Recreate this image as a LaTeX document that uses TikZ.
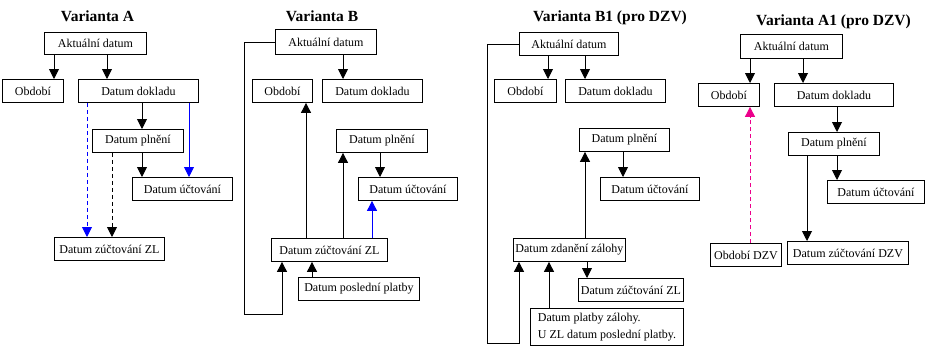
\documentclass[tikz,border=0pt]{standalone}
\usepackage{fontspec}
\setmainfont{Liberation Serif}
\usetikzlibrary{arrows.meta}
\tikzset{
    datbox/.style    = {draw, line width=0.9pt, anchor=north west, minimum width=#1,
                        minimum height=23pt, inner sep=0pt, font=\fontsize{12}{14}\selectfont},
    nadpis/.style    = {anchor=base, font=\fontsize{15.5}{18}\selectfont\bfseries},
    sipka/.style     = {-{Triangle[width=10pt, length=10pt]}, line width=0.9pt},
    carkovana/.style = {sipka, dash pattern=on 4pt off 3pt}
}
\begin{document}
\begin{tikzpicture}[x=1pt, y=-1pt]
        \useasboundingbox (0,0) rectangle (934,356);

        % --- Varianta A ---
        \node[nadpis] (tA) at (97.5,21) {Varianta A};
        \node[datbox=102, minimum height=22pt] (aktA) at (44,32)  {Aktuální datum};
        \node[datbox=61]  (obdA) at (2,79)    {Období};
        \node[datbox=120] (dokA) at (78,79)   {Datum dokladu};
        \node[datbox=91]  (plnA) at (92,129)  {Datum plnění};
        \node[datbox=100] (uctA) at (132,177) {Datum účtování};
        \node[datbox=110] (zlA)  at (54,237)  {Datum zúčtování ZL};

        \draw[sipka] (aktA.south -| 54,0)  -- (obdA.north -| 54,0);
        \draw[sipka] (aktA.south -| 107,0) -- (dokA.north -| 107,0);
        \draw[sipka] (dokA.south -| 142,0) -- (plnA.north -| 142,0);
        \draw[sipka] (plnA.south -| 142,0) -- (uctA.north -| 142,0);
        \draw[sipka, blue] (dokA.south -| 189,0) -- (uctA.north -| 189,0);
        \draw[carkovana, blue] (dokA.south -| 87,0) -- (zlA.north -| 87,0);
        \draw[carkovana] (plnA.south -| 112,0) -- (zlA.north -| 112,0);

        % --- Varianta B ---
        \node[nadpis] (tB) at (322,21) {Varianta B};
        \node[datbox=101, minimum height=25pt] (aktB) at (275,29) {Aktuální datum};
        \node[datbox=60]  (obdB) at (252,79)  {Období};
        \node[datbox=100] (dokB) at (322,79)  {Datum dokladu};
        \node[datbox=91]  (plnB) at (336,129) {Datum plnění};
        \node[datbox=99]  (uctB) at (358,177) {Datum účtování};
        \node[datbox=116] (zlB)  at (271,238) {Datum zúčtování ZL};
        \node[datbox=121] (posB) at (298,277) {Datum poslední platby};

        \draw[sipka] (aktB.south -| 343,0) -- (dokB.north -| 343,0);
        \draw[sipka] (aktB.west) -| (244,314) -| (zlB.south -| 282,0);
        \draw[sipka] (zlB.north -| 306,0) -- (obdB.south -| 306,0);
        \draw[sipka] (zlB.north -| 343,0) -- (plnB.south -| 343,0);
        \draw[sipka] (plnB.south -| 380,0) -- (uctB.north -| 380,0);
        \draw[sipka, blue] (zlB.north -| 372,0) -- (uctB.south -| 372,0);
        \draw[sipka] (posB.north -| 312,0) -- (zlB.south -| 312,0);

        % --- Varianta B1 ---
        \node[nadpis] (tB1) at (610,21) {Varianta B1 (pro DZV)};
        \node[datbox=99]  (aktB1) at (519,32)  {Aktuální datum};
        \node[datbox=62]  (obdB1) at (494,79)  {Období};
        \node[datbox=100] (dokB1) at (565,79)  {Datum dokladu};
        \node[datbox=90]  (plnB1) at (579,128) {Datum plnění};
        \node[datbox=99]  (uctB1) at (600,177) {Datum účtování};
        \node[datbox=112] (zdB1)  at (513,238) {Datum zdanění zálohy};
        \node[datbox=105] (zlB1)  at (578,278) {Datum zúčtování ZL};
        \node[datbox=153, minimum height=37pt, align=left, font=\fontsize{12}{17}\selectfont]
             (plB1) at (530,308) {Datum platby zálohy.\\U ZL datum poslední platby.};

        \draw[sipka] (aktB1.south -| 548,0) -- (obdB1.north -| 548,0);
        \draw[sipka] (aktB1.south -| 585,0) -- (dokB1.north -| 585,0);
        \draw[sipka] (aktB1.west) -| (487,343) -| (zdB1.south -| 519,0);
        \draw[sipka] (zdB1.north -| 585,0) -- (plnB1.south -| 585,0);
        \draw[sipka] (plnB1.south -| 623,0) -- (uctB1.north -| 623,0);
        \draw[sipka] (zdB1.south -| 587,0) -- (zlB1.north -| 587,0);
        \draw[sipka] (plB1.north -| 549,0) -- (zdB1.south -| 549,0);

        % --- Varianta A1 ---
        \node[nadpis] (tA1) at (833.5,25) {Varianta A1 (pro DZV)};
        \node[datbox=102, minimum height=24pt] (aktA1) at (740,34) {Aktuální datum};
        \node[datbox=61]  (obdA1)  at (698,83)  {Období};
        \node[datbox=119] (dokA1)  at (774,83)  {Datum dokladu};
        \node[datbox=91]  (plnA1)  at (788,132) {Datum plnění};
        \node[datbox=97]  (uctA1)  at (827,180) {Datum účtování};
        \node[datbox=71]  (odzvA1) at (710,243) {Období DZV};
        \node[datbox=121] (zdzvA1) at (787,241) {Datum zúčtování DZV};

        \draw[sipka] (aktA1.south -| 750,0) -- (obdA1.north -| 750,0);
        \draw[sipka] (aktA1.south -| 803,0) -- (dokA1.north -| 803,0);
        \draw[sipka] (dokA1.south -| 837,0) -- (plnA1.north -| 837,0);
        \draw[sipka] (plnA1.south -| 837,0) -- (uctA1.north -| 837,0);
        \draw[sipka] (plnA1.south -| 807,0) -- (zdzvA1.north -| 807,0);
        \draw[carkovana, magenta] (odzvA1.north -| 750,0) -- (obdA1.south -| 750,0);
    \end{tikzpicture}
\end{document}
